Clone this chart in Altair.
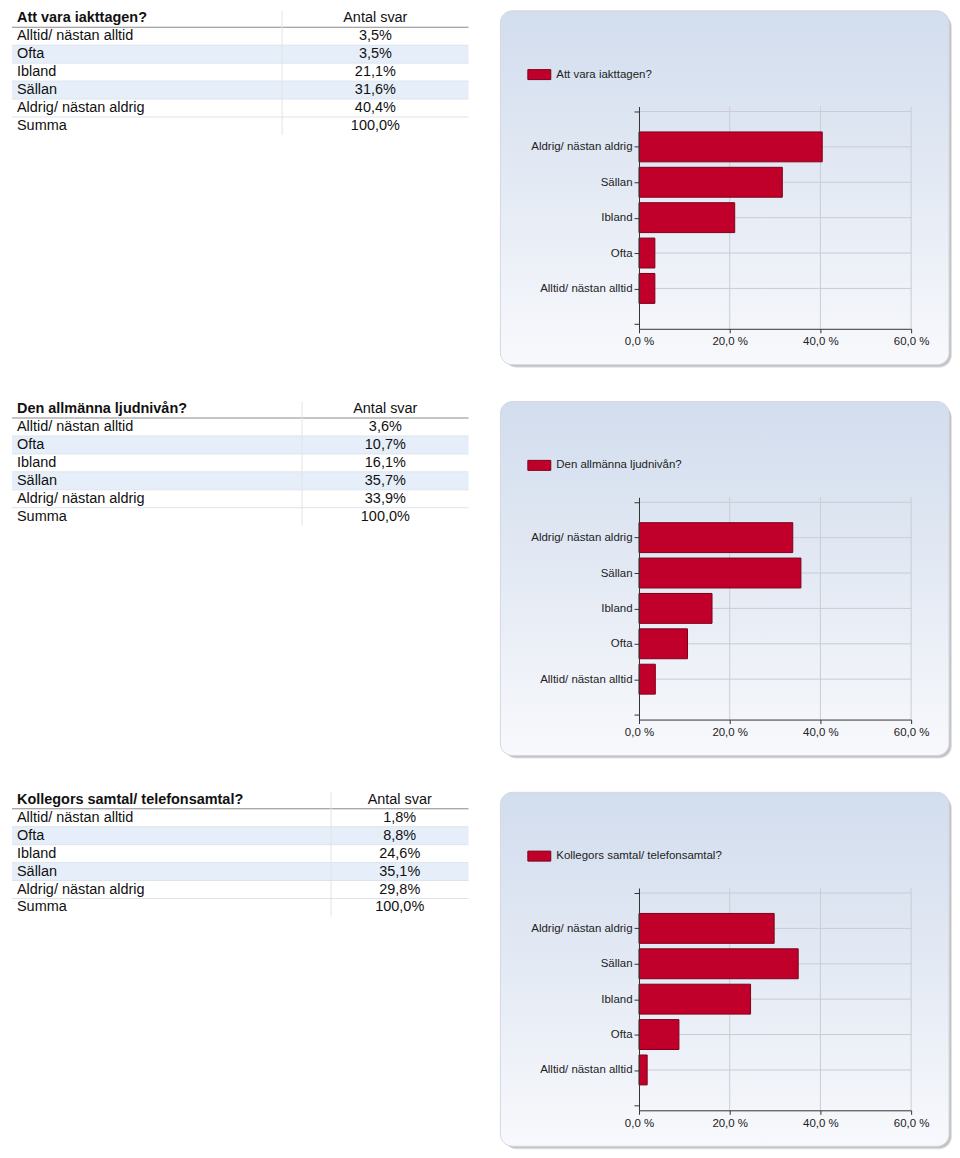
import json
import altair as alt
import pandas as pd

# ---------------- data ----------------
categories = ["Alltid/ nästan alltid", "Ofta", "Ibland", "Sällan", "Aldrig/ nästan aldrig"]
questions = ["Att vara iakttagen?", "Den allmänna ljudnivån?", "Kollegors samtal/ telefonsamtal?"]
values_q1 = [3.5, 3.5, 21.1, 31.6, 40.4]
values_q2 = [3.6, 10.7, 16.1, 35.7, 33.9]
values_q3 = [1.8, 8.8, 24.6, 35.1, 29.8]
summa_label = "Summa"
summa_values = [100.0, 100.0, 100.0]
header_label = "Antal svar"
x_ticks = [0, 20, 40, 60]

# ---------------- style / layout ----------------
FONT = "Liberation Sans"
RED = "#c0002a"
RED_DARK = "#7d0019"
GRID = "#c9cdd3"
STRIPE = "#e6eff9"
SEP = "#dde4ec"
TABLE_W = 462
ROW_H = 18
TABLE_H = ROW_H * 7
TOP = -96                       # panel top relative to the bar plot's top edge
T_OFF = -1.5                    # table grid start relative to TOP
divider_x = [275, 295, 324]     # table column divider (view px)
PLOT_W, PLOT_H = 273, 223


def fmt(v):
    return f"{v:.1f}".replace(".", ",") + "%"


def table_chart(q, vals, summa, div):
    rows = pd.DataFrame({
        "label": categories + [summa_label],
        "val": [fmt(v) for v in vals] + [fmt(summa)],
        "r": list(range(1, 7)),
    })
    head = pd.DataFrame({"label": [q], "val": [header_label], "r": [0]})
    y0 = TOP + T_OFF
    ysc = alt.Scale(domain=[0, 7], range=[y0, y0 + TABLE_H], nice=False, zero=False)
    val_x = (div + TABLE_W) / 2

    base = alt.Chart(rows).transform_calculate(rc="datum.r + 0.5", r1="datum.r + 1")
    hbase = alt.Chart(head).transform_calculate(rc="datum.r + 0.5")

    stripes = base.transform_filter("datum.r == 2 || datum.r == 4").mark_rect(color=STRIPE).encode(
        y=alt.Y("r:Q", scale=ysc, axis=None), y2="r1:Q",
        x=alt.value(4), x2=alt.value(TABLE_W))
    seps = base.transform_filter("datum.r >= 2").mark_rule(color=SEP, strokeWidth=1).encode(
        y=alt.Y("r:Q", scale=ysc, axis=None), x=alt.value(4), x2=alt.value(TABLE_W))
    hline = base.transform_filter("datum.r == 1").mark_rule(color="#8a8a8a", strokeWidth=1).encode(
        y=alt.Y("r:Q", scale=ysc, axis=None), x=alt.value(4), x2=alt.value(TABLE_W))
    divider = alt.Chart(head).mark_rule(color="#e3e3e3", strokeWidth=1).encode(
        x=alt.value(div), y=alt.value(TOP), y2=alt.value(y0 + TABLE_H))
    labels = base.mark_text(align="left", baseline="middle", font=FONT, fontSize=14.5, color="#111").encode(
        y=alt.Y("rc:Q", scale=ysc, axis=None), x=alt.value(9), text="label:N")
    vtext = base.mark_text(align="center", baseline="middle", font=FONT, fontSize=14.5, color="#111").encode(
        y=alt.Y("rc:Q", scale=ysc, axis=None), x=alt.value(val_x), text="val:N")
    title = hbase.mark_text(align="left", baseline="middle", font=FONT, fontSize=14.5,
                            fontWeight="bold", color="#111").encode(
        y=alt.Y("rc:Q", scale=ysc, axis=None), x=alt.value(9), text="label:N")
    htext = hbase.mark_text(align="center", baseline="middle", font=FONT, fontSize=14.5, color="#111").encode(
        y=alt.Y("rc:Q", scale=ysc, axis=None), x=alt.value(val_x), text="val:N")

    return alt.layer(stripes, seps, hline, divider, labels, vtext, title, htext).properties(
        width=TABLE_W, height=int(y0 + TABLE_H))


label_arr = json.dumps([""] + categories + [""], ensure_ascii=False)
x_scale = alt.Scale(domain=[0, 60], nice=False, zero=True)
y_scale = alt.Scale(domain=[0, len(categories) + 1], nice=False, zero=True)
x_axis = alt.Axis(values=x_ticks, title=None, grid=False, labelFlush=False,
                  domainColor="#333", tickColor="#333", tickSize=4,
                  labelPadding=3, labelFont=FONT, labelFontSize=11.5, labelColor="#222",
                  labelExpr="replace(format(datum.value, '.1f'), '.', ',') + ' %'", zindex=1)
y_axis = alt.Axis(values=list(range(0, len(categories) + 2)), title=None, grid=False, labelFlush=False,
                  domainColor="#333", tickColor="#333", tickSize=5,
                  labelPadding=2, labelFont=FONT, labelFontSize=11.5, labelColor="#222",
                  labelExpr=label_arr + "[datum.value]", zindex=1)


def bar_chart(q, vals):
    df = pd.DataFrame({"cat": categories, "val": vals, "pos": list(range(1, 6)), "q": [q] * 5})
    one = pd.DataFrame({"a": [0]})
    xgrid = pd.DataFrame({"t": x_ticks[1:]})
    ygrid = pd.DataFrame({"p": list(range(1, len(categories) + 2))})

    grad = alt.Gradient(
        gradient="linear", x1=0, x2=0, y1=0, y2=1,
        stops=[alt.GradientStop(offset=0, color="#d2ddee"),
               alt.GradientStop(offset=0.5, color="#e4eaf4"),
               alt.GradientStop(offset=1, color="#f8f9fc")])

    shadow2 = alt.Chart(one).mark_rect(cornerRadius=13, fill="#d0d0d0", opacity=0.6).encode(
        x=alt.value(-135), x2=alt.value(314), y=alt.value(TOP + 4), y2=alt.value(262))
    shadow = alt.Chart(one).mark_rect(cornerRadius=12, fill="#b5b5b5", opacity=0.7).encode(
        x=alt.value(-136), x2=alt.value(313), y=alt.value(TOP + 3), y2=alt.value(261))
    panel = alt.Chart(one).mark_rect(cornerRadius=12, fill=grad, stroke="#d3d9e2", strokeWidth=1).encode(
        x=alt.value(-139), x2=alt.value(311), y=alt.value(TOP), y2=alt.value(259))

    vgrid = alt.Chart(xgrid).mark_rule(color=GRID, strokeWidth=1).encode(
        x=alt.X("t:Q", scale=x_scale, axis=x_axis))
    hgrid = alt.Chart(ygrid).mark_rule(color=GRID, strokeWidth=1).encode(
        y=alt.Y("p:Q", scale=y_scale, axis=y_axis))

    bars = alt.Chart(df).mark_bar(orient="horizontal", size=30, stroke=RED_DARK, strokeWidth=1).encode(
        x=alt.X("val:Q", scale=x_scale, axis=x_axis),
        y=alt.Y("pos:Q", scale=y_scale, axis=y_axis),
        color=alt.Color("q:N", scale=alt.Scale(range=[RED]),
                        legend=alt.Legend(title=None, orient="none", legendX=-112, legendY=-44,
                                          padding=0, symbolType="M-1,-0.435H1V0.435H-1Z",
                                          symbolSize=529, symbolStrokeColor=RED_DARK,
                                          symbolStrokeWidth=1, symbolOpacity=1,
                                          labelOffset=5, labelFont=FONT, labelFontSize=11.5,
                                          labelColor="#222", labelLimit=400)),
    )
    return alt.layer(shadow2, shadow, panel, vgrid, hgrid, bars).properties(
        width=PLOT_W, height=PLOT_H)


all_vals = [values_q1, values_q2, values_q3]
rows = []
for i, q in enumerate(questions):
    row = alt.hconcat(table_chart(q, all_vals[i], summa_values[i], divider_x[i]),
                      bar_chart(q, all_vals[i]), spacing=30).resolve_scale(color="independent")
    rows.append(row)

chart = alt.vconcat(*rows, spacing=33).resolve_scale(color="independent").properties(
    padding=0
).configure_view(stroke=None)

chart.save("out.html", embed_options={"renderer": "svg", "actions": False})
